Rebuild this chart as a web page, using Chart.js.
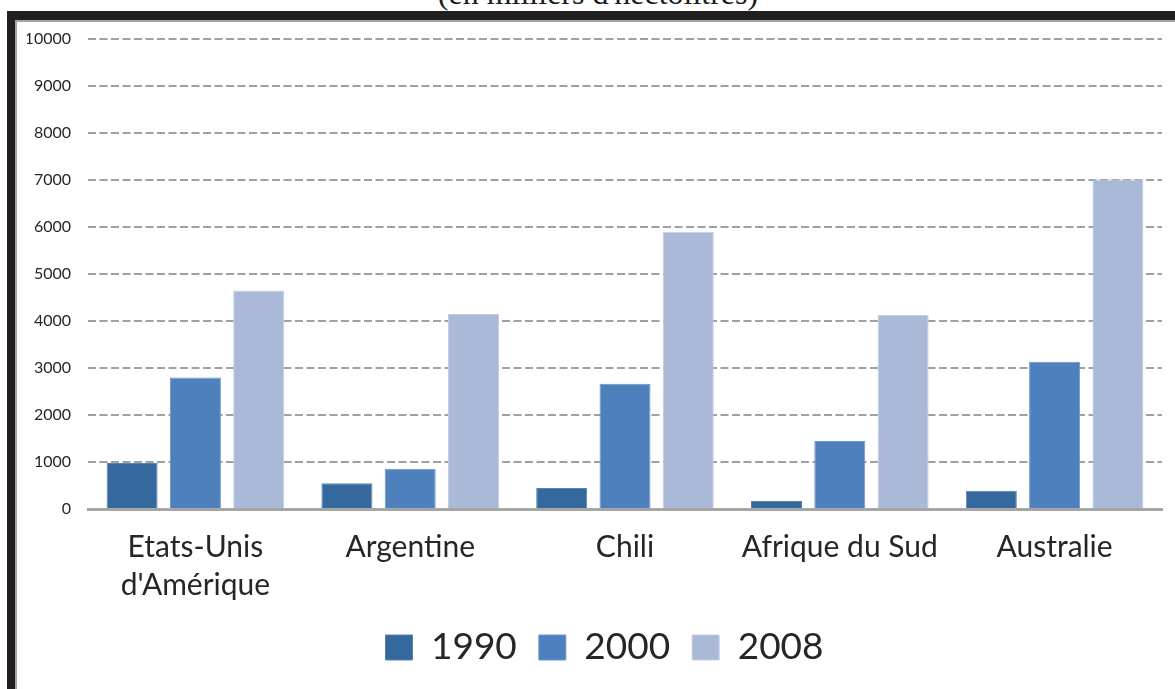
<!DOCTYPE html>
<html lang="fr">
<head>
<meta charset="utf-8">
<title>Superficie viticole</title>
<script src="https://cdn.jsdelivr.net/npm/chart.js@4.4.1/dist/chart.umd.min.js"></script>
<style>
  html, body { margin: 0; padding: 0; background: #fff; overflow: hidden; width: 1175px; height: 689px; }
  #caption {
    position: absolute; left: 0; width: 1196px; top: -23px;
    font-family: "Liberation Serif", "DejaVu Serif", serif; font-size: 32px; line-height: 32px;
    text-align: center; color: #1a1a1a; white-space: nowrap;
  }
  #frameTop { position: absolute; left: 7px; top: 11px; width: 1168px; height: 9px; background: #231f20; }
  #frameLeft { position: absolute; left: 7px; top: 11px; width: 8px; height: 678px; background: #231f20; }
  #panel {
    position: absolute; left: 15px; top: 20px; width: 1180px; height: 667px;
    border-left: 2px solid #a3a3a3; border-top: 2px solid #a3a3a3; border-bottom: 1px solid #e6e6e6;
    background: #fff;
  }
  #wrap { position: absolute; left: 0; top: 0; width: 1175px; height: 666px; }
</style>
</head>
<body>
<div id="caption">(en milliers d'hectolitres)</div>
<div id="frameTop"></div>
<div id="frameLeft"></div>
<div id="panel">
  <div id="wrap"><canvas id="chart"></canvas></div>
</div>
<script>
// Pays producteurs
const categories = [["Etats-Unis", "d'Amérique"], "Argentine", "Chili", "Afrique du Sud", "Australie"];
// Séries par année (milliers d'hectolitres)
const years = ["1990", "2000", "2008"];
const values1990 = [980, 550, 445, 170, 390];
const values2000 = [2800, 855, 2665, 1445, 3135];
const values2008 = [4650, 4150, 5900, 4130, 7010];
// Graduations de l'axe vertical
const yTicks = [0, 1000, 2000, 3000, 4000, 5000, 6000, 7000, 8000, 9000, 10000];

const colors = ["#35689c", "#4e80bd", "#abb9d8"];
const edges = ["#5a82ad", "#6f97c8", "#c3cee4"];

const FONT = "Lato, 'Open Sans', 'DejaVu Sans', sans-serif";

// Recentre la légende sous l'ensemble du cadre (et non sous la zone utile)
const legendCenter = {
  id: 'legendCenter',
  afterLayout(chart) {
    const lg = chart.legend;
    if (!lg) return;
    const target = chart.width / 2;
    const dx = target - (lg.left + lg.right) / 2;
    lg.left += dx;
    lg.right += dx;
  }
};

const ctx = document.getElementById('chart');
new Chart(ctx, {
  type: 'bar',
  data: {
    labels: categories,
    datasets: [values1990, values2000, values2008].map((vals, i) => ({
      label: years[i],
      data: vals,
      backgroundColor: colors[i],
      borderColor: edges[i],
      borderWidth: 1,
      categoryPercentage: 0.884,
      barPercentage: 0.806
    }))
  },
  plugins: [legendCenter],
  options: {
    responsive: true,
    maintainAspectRatio: false,
    animation: false,
    layout: { padding: { left: 10, right: 30, top: 17, bottom: 12 } },
    plugins: {
      tooltip: { enabled: false },
      legend: {
        position: 'bottom',
        labels: {
          font: { family: FONT, size: 37 },
          color: '#262626',
          boxWidth: 27,
          boxHeight: 25,
          padding: 22
        }
      }
    },
    scales: {
      x: {
        grid: { display: false, drawTicks: false },
        border: { display: true, color: '#a6a6a6', width: 3 },
        ticks: {
          font: { family: FONT, size: 30, lineHeight: 1.267 },
          color: '#262626',
          padding: 19,
          maxRotation: 0,
          autoSkip: false
        },
        afterFit: (axis) => { axis.height = 98; }
      },
      y: {
        min: 0,
        max: 10000,
        afterBuildTicks: (axis) => { axis.ticks = yTicks.map(v => ({ value: v })); },
        afterFit: (axis) => { axis.width = 61; axis.paddingTop = 0; axis.paddingBottom = 0; },
        grid: { color: '#a0a0a0', lineWidth: 2, drawTicks: false },
        border: { display: false, dash: [8, 3.5] },
        ticks: {
          font: { family: FONT, size: 16 },
          color: '#262626',
          padding: 17,
          callback: (v) => String(v)
        }
      }
    }
  }
});
</script>
</body>
</html>
